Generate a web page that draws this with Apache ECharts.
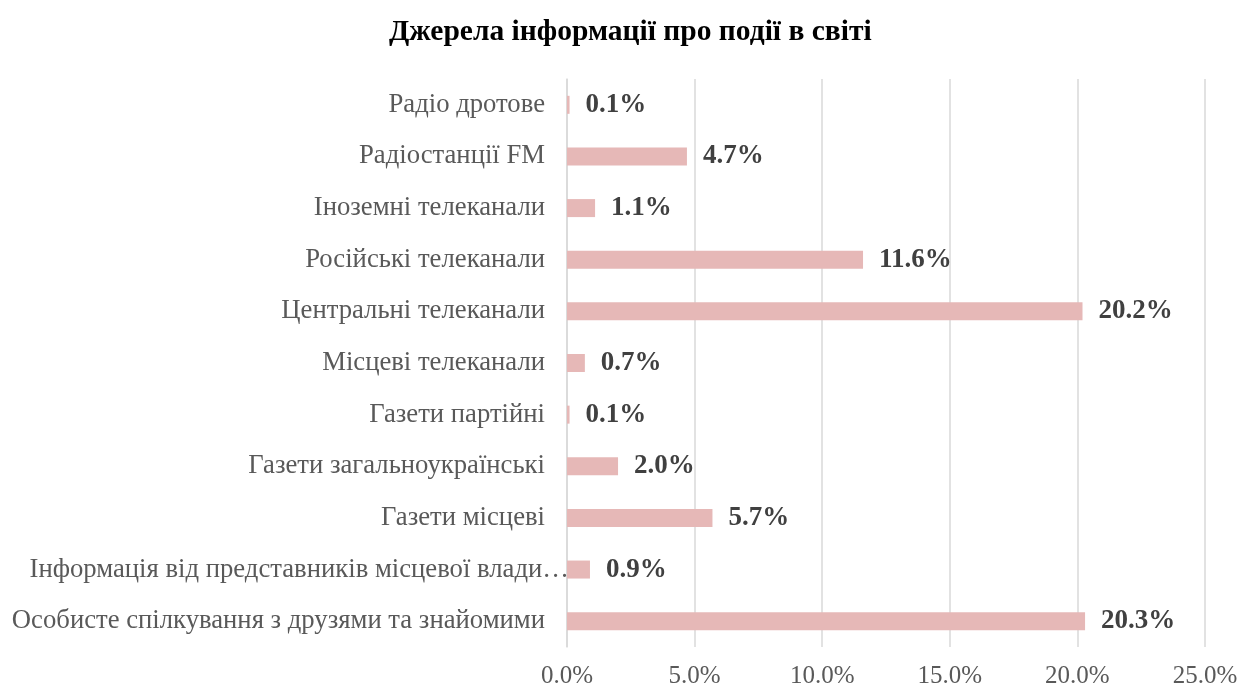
<!DOCTYPE html>
<html>
<head>
<meta charset="utf-8">
<script src="https://cdn.jsdelivr.net/npm/echarts@6/dist/echarts.min.js"></script>
<style>
    html, body { margin: 0; padding: 0; background: #fff; }
    #chart { width: 1240px; height: 687px; }
</style>
</head>
<body>
<div id="chart"></div>
<script>
    // категорії знизу вгору (як на осі)
    var categories = [
        'Особисте спілкування з друзями та знайомими',
        'Інформація від представників місцевої влади…',
        'Газети місцеві',
        'Газети загальноукраїнські',
        'Газети партійні',
        'Місцеві телеканали',
        'Центральні телеканали',
        'Російські телеканали',
        'Іноземні телеканали',
        'Радіостанції FM',
        'Радіо дротове'
    ];
    var values = [20.3, 0.9, 5.7, 2.0, 0.1, 0.7, 20.2, 11.6, 1.1, 4.7, 0.1];
    var xTicks = [0, 5, 10, 15, 20, 25];

    var serif = '"Liberation Serif", "Times New Roman", serif';
    var chart = echarts.init(document.getElementById('chart'));

    // обрізаний підпис у Excel заходить трохи за вісь
    var yData = categories.map(function (c) {
        if (c.charAt(c.length - 1) === '…') {
            return { value: c, textStyle: { padding: [0, -24, 0, 0] } };
        }
        return c;
    });

    chart.setOption({
        backgroundColor: '#ffffff',
        title: {
            text: 'Джерела інформації про події в світі',
            left: 384,
            top: 12,
            textStyle: { fontFamily: serif, fontSize: 29.5, fontWeight: 'bold', color: '#000' }
        },
        grid: {
            left: 567, right: 35, top: 79, bottom: 40,
            containLabel: false,
            outerBoundsMode: 'none'
        },
        xAxis: {
            type: 'value',
            min: xTicks[0],
            max: xTicks[xTicks.length - 1],
            interval: 5,
            axisLine: { show: false },
            axisTick: { show: false },
            splitLine: { lineStyle: { color: '#d9d9d9', width: 1.5 } },
            axisLabel: {
                margin: 17,
                fontFamily: serif, fontSize: 25, color: '#595959',
                formatter: function (v) { return v.toFixed(1) + '%'; }
            }
        },
        yAxis: {
            type: 'category',
            data: yData,
            axisLine: { show: true, lineStyle: { color: '#d9d9d9', width: 1.5 } },
            axisTick: { show: false },
            axisLabel: { margin: 22, fontFamily: serif, fontSize: 26.7, color: '#595959' }
        },
        series: [{
            type: 'bar',
            data: values,
            barWidth: 18,
            itemStyle: { color: '#e6b8b7' },
            label: {
                show: true,
                position: 'right',
                distance: 16,
                fontFamily: serif, fontSize: 27, fontWeight: 'bold', color: '#404040',
                formatter: function (p) { return p.value.toFixed(1) + '%'; }
            }
        }]
    });
</script>
</body>
</html>
